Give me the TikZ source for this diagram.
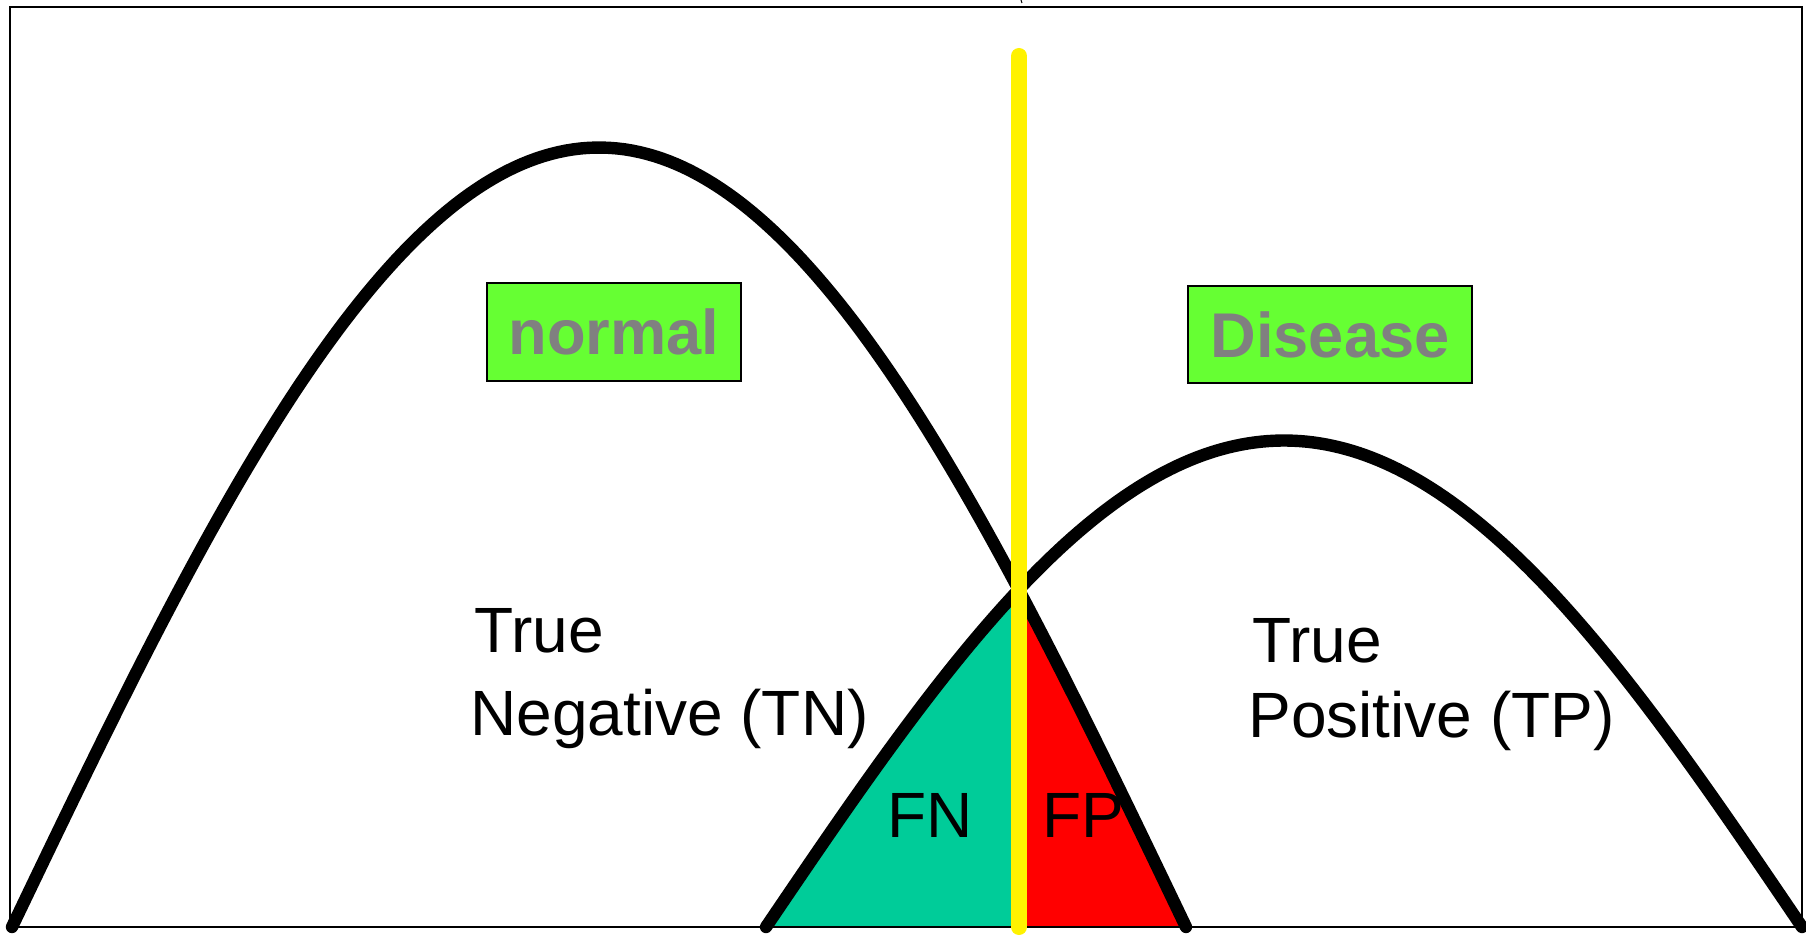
\documentclass[tikz,border=0pt]{standalone}
\usepackage{fontspec}
\setmainfont{Liberation Sans}
\definecolor{fngreen}{RGB}{0,204,153}
\definecolor{boxgreen}{RGB}{102,255,51}
\definecolor{labelgray}{RGB}{128,128,128}
\begin{document}
\begin{tikzpicture}[x=0.5pt,y=-0.5pt,
  curve/.style={line width=6.2pt, line cap=round, line join=round},
  lbl/.style={font=\fontsize{32}{32}\selectfont, inner sep=0pt, anchor=base west},
  tag/.style={draw=black, line width=0.75pt, fill=boxgreen, text=labelgray,
    font=\fontsize{31.6}{31.6}\selectfont\bfseries, inner sep=0pt}]
\useasboundingbox (0,0) rectangle (1806,936);
% filled error regions
\fill[fngreen] (766,927) -- plot[domain=0:43.96, samples=50] ({766+5.7556*\x},{927-486.5*sin(\x)}) -- (1019,927) -- cycle;
\fill[red] (1019,927) -- plot[domain=154.07:180, samples=40] ({12+6.5222*\x},{927-779.5*sin(\x)}) -- (1186,927) -- cycle;
% frame
\draw[line width=0.75pt] (10,7) rectangle (1802,927);
\draw[line width=1.25pt] (10,7) -- (1802,7);
\draw[line width=0.5pt] (1021,0) -- (1022,3);
% distributions
\draw[curve] plot[domain=0:180, samples=160] ({12+6.5222*\x},{927-779.5*sin(\x)});
\draw[curve] plot[domain=0:180, samples=160] ({766+5.7556*\x},{927-486.5*sin(\x)});
% threshold
\coordinate (thtop) at (1019,56);
\coordinate (thbot) at (1019,927);
\draw[yellow, line width=8pt, line cap=round] (thtop) -- (thbot);
% boxes
\node[tag, minimum width=127pt, minimum height=49pt] (normal) at (614,332) {normal};
\node[tag, minimum width=142pt, minimum height=48.5pt] (disease) at (1330,334.5) {Disease};
% labels
\node[lbl] (tn1) at (474,652) {True};
\node[lbl] (tn2) at (470,735) {Negative (TN)};
\node[lbl] (tp1) at (1252,662) {True};
\node[lbl] (tp2) at (1248,737) {Positive (TP)};
\node[lbl] (fn) at (887,837) {FN};
\node[lbl] (fp) at (1042,837) {FP};
\end{tikzpicture}
\end{document}
